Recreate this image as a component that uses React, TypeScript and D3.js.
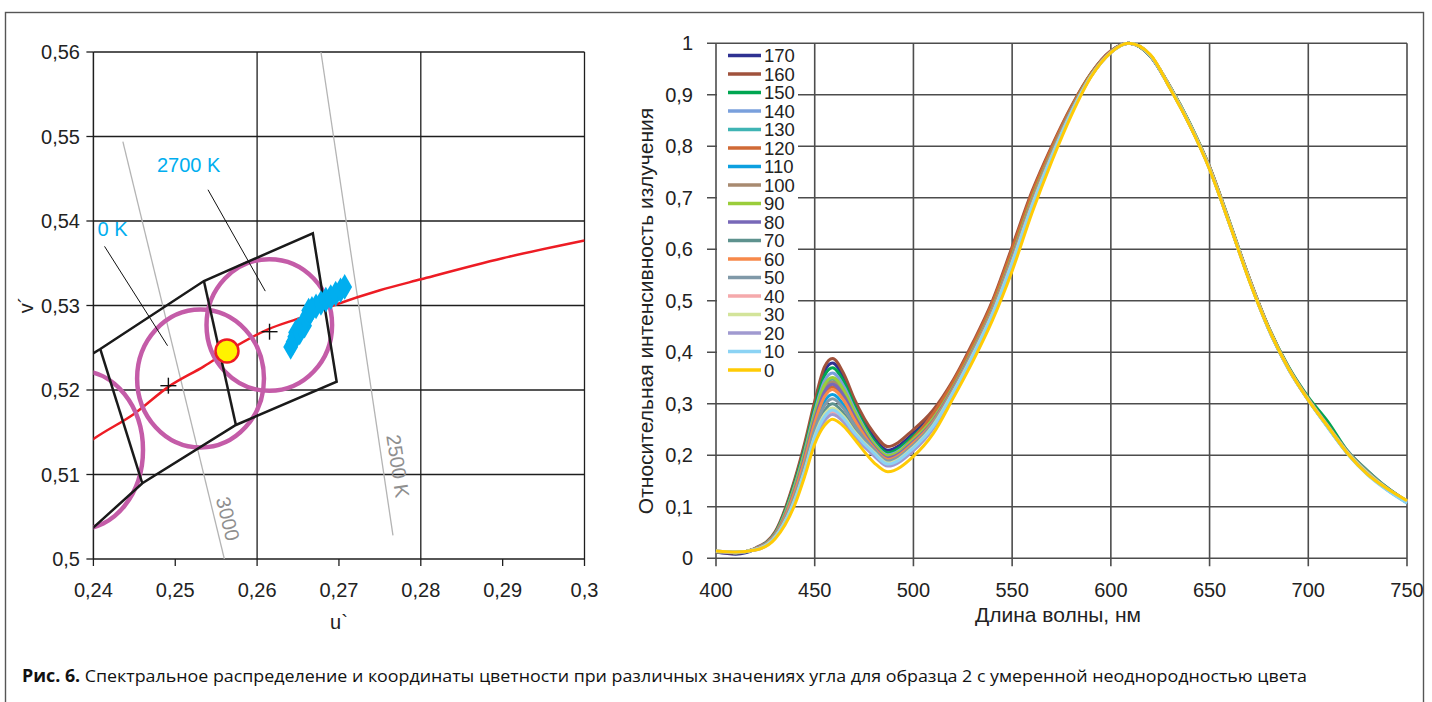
import React from "react"
import * as d3 from "d3"

// ---------- left chart: chromaticity diagram (u', v') ----------
const uTicks = [0.24, 0.25, 0.26, 0.27, 0.28, 0.29, 0.3]
const uTickLabels = ["0,24", "0,25", "0,26", "0,27", "0,28", "0,29", "0,3"]
const uGrid = [0.26, 0.28, 0.3]
const vTicks = [0.5, 0.51, 0.52, 0.53, 0.54, 0.55, 0.56]
const vTickLabels = ["0,5", "0,51", "0,52", "0,53", "0,54", "0,55", "0,56"]

// Planckian locus (red)
const locusU = [0.239, 0.24, 0.245, 0.2492, 0.2535, 0.2564, 0.2614, 0.2655, 0.2693, 0.275, 0.28, 0.29, 0.3]
const locusV = [0.5135, 0.5142, 0.5172, 0.5204, 0.5228, 0.5246, 0.5272, 0.5286, 0.53, 0.5318, 0.5331, 0.5356, 0.5377]

// isotherms (grey)
const isoLabels = ["3000", "2500 K"]
const isoU1 = [0.2436, 0.2678]
const isoV1 = [0.5494, 0.56]
const isoU2 = [0.256, 0.2766]
const isoV2 = [0.5, 0.5028]
const isoLabelU = [0.2556, 0.27635]
const isoLabelV = [0.50456, 0.51089]

// quadrangles (black)
const quadOutline: [number, number][] = [
	[0.2394, 0.524], [0.24084, 0.52485], [0.2535, 0.5329], [0.26681, 0.53855],
	[0.26972, 0.52098], [0.25741, 0.51586], [0.24598, 0.50896], [0.2394, 0.5032],
]
const quadDividers: [number, number][][] = [
	[[0.24084, 0.52485], [0.24598, 0.50896]],
	[[0.2535, 0.5329], [0.25741, 0.51586]],
]

// ellipses (magenta)
const ellipseU = [0.26149, 0.25309, 0.23836]
const ellipseV = [0.52769, 0.52136, 0.5129]
const ellipseRu = [0.00767, 0.00775, 0.0077]
const ellipseRv = [0.00779, 0.00817, 0.00935]

// centre crosses and the reference point
const crossU = [0.26152, 0.24916]
const crossV = [0.5269, 0.52051]
const refU = 0.25632
const refV = 0.52461

// measured colour points (cyan)
const measU = [0.2641, 0.2644, 0.2646, 0.2647, 0.265, 0.2652, 0.2654, 0.2657, 0.2658, 0.266, 0.2662, 0.2663, 0.2665, 0.2667, 0.2672, 0.2678, 0.2684, 0.269, 0.2696, 0.2702, 0.2707]
const measV = [0.5251, 0.5257, 0.5263, 0.5268, 0.5271, 0.5268, 0.5275, 0.5279, 0.5276, 0.5284, 0.5289, 0.5294, 0.5292, 0.5296, 0.5299, 0.5303, 0.5307, 0.531, 0.5314, 0.5318, 0.5322]

// annotations
const noteTexts = ["2700 K", "0 K"]
const noteU = [0.24777, 0.24051]
const noteV = [0.5458, 0.53822]
const leaderFrom: [number, number][] = [[0.254, 0.5437], [0.24136, 0.537]]
const leaderTo: [number, number][] = [[0.261, 0.5317], [0.24906, 0.52524]]

// ---------- right chart: spectra ----------
const wavelengths = [400, 410, 420, 430, 440, 445, 450, 455, 459, 465, 470, 480, 487, 500, 510, 520, 530, 540, 550, 560, 570, 580, 590, 600, 609, 620, 630, 640, 650, 660, 670, 680, 690, 700, 710, 720, 730, 740, 750]
const xTicksR = [400, 450, 500, 550, 600, 650, 700, 750]
const yTicksR = [0, 0.1, 0.2, 0.3, 0.4, 0.5, 0.6, 0.7, 0.8, 0.9, 1]
const yTickLabelsR = ["0", "0,1", "0,2", "0,3", "0,4", "0,5", "0,6", "0,7", "0,8", "0,9", "1"]

const s170 = [0.012, 0.008, 0.018, 0.050, 0.151, 0.220, 0.298, 0.363, 0.379, 0.348, 0.304, 0.235, 0.210, 0.243, 0.282, 0.340, 0.413, 0.495, 0.598, 0.706, 0.796, 0.875, 0.941, 0.985, 1.000, 0.976, 0.915, 0.842, 0.758, 0.652, 0.543, 0.446, 0.369, 0.309, 0.256, 0.205, 0.167, 0.135, 0.108]
const s160 = [0.012, 0.010, 0.020, 0.052, 0.155, 0.225, 0.305, 0.372, 0.388, 0.356, 0.310, 0.243, 0.217, 0.250, 0.288, 0.345, 0.418, 0.500, 0.605, 0.712, 0.800, 0.878, 0.942, 0.985, 1.000, 0.975, 0.915, 0.843, 0.760, 0.653, 0.545, 0.447, 0.370, 0.310, 0.256, 0.206, 0.168, 0.136, 0.110]
const s150 = [0.013, 0.011, 0.019, 0.049, 0.148, 0.215, 0.293, 0.355, 0.370, 0.341, 0.298, 0.229, 0.205, 0.238, 0.277, 0.337, 0.409, 0.491, 0.594, 0.702, 0.793, 0.874, 0.940, 0.984, 1.000, 0.975, 0.916, 0.845, 0.760, 0.655, 0.545, 0.448, 0.372, 0.313, 0.265, 0.208, 0.170, 0.137, 0.110]
const s140 = [0.013, 0.011, 0.019, 0.048, 0.143, 0.209, 0.285, 0.345, 0.360, 0.332, 0.291, 0.224, 0.201, 0.233, 0.273, 0.333, 0.406, 0.488, 0.590, 0.698, 0.790, 0.872, 0.939, 0.984, 1.000, 0.976, 0.914, 0.842, 0.757, 0.652, 0.542, 0.446, 0.369, 0.309, 0.256, 0.205, 0.166, 0.135, 0.110]
const s130 = [0.013, 0.011, 0.018, 0.047, 0.138, 0.203, 0.277, 0.333, 0.348, 0.322, 0.284, 0.220, 0.197, 0.229, 0.269, 0.331, 0.403, 0.484, 0.586, 0.695, 0.788, 0.871, 0.938, 0.983, 1.000, 0.976, 0.913, 0.841, 0.757, 0.651, 0.542, 0.445, 0.368, 0.308, 0.255, 0.204, 0.166, 0.134, 0.109]
const s120 = [0.013, 0.011, 0.018, 0.047, 0.132, 0.195, 0.266, 0.318, 0.333, 0.309, 0.273, 0.215, 0.193, 0.234, 0.281, 0.342, 0.414, 0.496, 0.600, 0.708, 0.797, 0.876, 0.941, 0.985, 1.000, 0.976, 0.915, 0.843, 0.759, 0.653, 0.544, 0.447, 0.370, 0.310, 0.257, 0.206, 0.167, 0.136, 0.111]
const s110 = [0.013, 0.011, 0.017, 0.045, 0.126, 0.187, 0.256, 0.305, 0.318, 0.296, 0.264, 0.212, 0.190, 0.221, 0.267, 0.329, 0.402, 0.483, 0.584, 0.693, 0.787, 0.870, 0.938, 0.983, 1.000, 0.977, 0.914, 0.842, 0.757, 0.651, 0.542, 0.445, 0.368, 0.308, 0.254, 0.203, 0.164, 0.133, 0.108]
const s100 = [0.013, 0.011, 0.018, 0.046, 0.136, 0.200, 0.274, 0.329, 0.343, 0.318, 0.280, 0.219, 0.196, 0.228, 0.268, 0.330, 0.403, 0.484, 0.585, 0.694, 0.787, 0.870, 0.938, 0.983, 1.000, 0.976, 0.914, 0.842, 0.758, 0.652, 0.543, 0.446, 0.369, 0.309, 0.257, 0.207, 0.169, 0.136, 0.110]
const s90 = [0.013, 0.011, 0.018, 0.047, 0.140, 0.205, 0.279, 0.337, 0.351, 0.325, 0.286, 0.222, 0.199, 0.231, 0.271, 0.332, 0.405, 0.486, 0.588, 0.697, 0.789, 0.871, 0.939, 0.983, 1.000, 0.976, 0.914, 0.842, 0.758, 0.652, 0.543, 0.446, 0.369, 0.309, 0.256, 0.205, 0.166, 0.135, 0.110]
const s80 = [0.013, 0.011, 0.018, 0.046, 0.134, 0.198, 0.270, 0.324, 0.338, 0.314, 0.277, 0.217, 0.195, 0.227, 0.267, 0.329, 0.402, 0.483, 0.584, 0.693, 0.787, 0.870, 0.938, 0.983, 1.000, 0.976, 0.913, 0.841, 0.757, 0.651, 0.542, 0.445, 0.368, 0.308, 0.255, 0.204, 0.165, 0.134, 0.109]
const s70 = [0.013, 0.011, 0.017, 0.043, 0.118, 0.176, 0.243, 0.287, 0.300, 0.280, 0.252, 0.209, 0.188, 0.219, 0.261, 0.324, 0.397, 0.478, 0.577, 0.687, 0.782, 0.867, 0.937, 0.983, 1.000, 0.976, 0.914, 0.842, 0.758, 0.652, 0.543, 0.447, 0.370, 0.310, 0.258, 0.208, 0.170, 0.137, 0.111]
const s60 = [0.013, 0.011, 0.018, 0.045, 0.130, 0.192, 0.263, 0.314, 0.328, 0.305, 0.270, 0.214, 0.192, 0.224, 0.265, 0.327, 0.400, 0.481, 0.581, 0.691, 0.785, 0.869, 0.938, 0.983, 1.000, 0.977, 0.915, 0.843, 0.759, 0.653, 0.544, 0.446, 0.369, 0.309, 0.256, 0.205, 0.166, 0.135, 0.110]
const s50 = [0.013, 0.011, 0.017, 0.044, 0.122, 0.182, 0.250, 0.297, 0.310, 0.289, 0.259, 0.211, 0.189, 0.220, 0.262, 0.325, 0.398, 0.478, 0.578, 0.688, 0.783, 0.868, 0.937, 0.983, 1.000, 0.976, 0.913, 0.841, 0.757, 0.651, 0.542, 0.445, 0.368, 0.308, 0.255, 0.204, 0.165, 0.134, 0.109]
const s40 = [0.014, 0.012, 0.017, 0.041, 0.111, 0.168, 0.232, 0.272, 0.284, 0.267, 0.241, 0.201, 0.181, 0.212, 0.254, 0.320, 0.392, 0.472, 0.571, 0.681, 0.778, 0.865, 0.936, 0.982, 1.000, 0.977, 0.913, 0.841, 0.756, 0.651, 0.542, 0.445, 0.368, 0.308, 0.255, 0.204, 0.165, 0.134, 0.110]
const s30 = [0.014, 0.012, 0.017, 0.042, 0.115, 0.172, 0.238, 0.280, 0.292, 0.274, 0.247, 0.206, 0.185, 0.216, 0.258, 0.322, 0.395, 0.475, 0.575, 0.685, 0.781, 0.866, 0.937, 0.982, 1.000, 0.977, 0.914, 0.842, 0.757, 0.651, 0.542, 0.445, 0.368, 0.308, 0.256, 0.205, 0.166, 0.135, 0.111]
const s20 = [0.014, 0.012, 0.016, 0.040, 0.109, 0.165, 0.229, 0.267, 0.279, 0.263, 0.238, 0.199, 0.179, 0.209, 0.252, 0.318, 0.390, 0.470, 0.568, 0.679, 0.777, 0.864, 0.936, 0.982, 1.000, 0.977, 0.913, 0.841, 0.756, 0.650, 0.541, 0.444, 0.367, 0.307, 0.254, 0.203, 0.164, 0.133, 0.109]
const s10 = [0.014, 0.012, 0.017, 0.041, 0.113, 0.170, 0.235, 0.275, 0.288, 0.270, 0.244, 0.204, 0.183, 0.214, 0.256, 0.321, 0.393, 0.474, 0.573, 0.683, 0.779, 0.866, 0.936, 0.982, 1.000, 0.977, 0.913, 0.841, 0.756, 0.650, 0.541, 0.444, 0.367, 0.307, 0.253, 0.202, 0.162, 0.132, 0.107]
const s0 = [0.014, 0.012, 0.016, 0.038, 0.105, 0.160, 0.222, 0.258, 0.270, 0.255, 0.232, 0.186, 0.168, 0.198, 0.242, 0.310, 0.382, 0.462, 0.558, 0.670, 0.770, 0.860, 0.935, 0.982, 1.000, 0.978, 0.912, 0.840, 0.755, 0.650, 0.540, 0.445, 0.368, 0.307, 0.255, 0.203, 0.163, 0.135, 0.112]

const angles = [170, 160, 150, 140, 130, 120, 110, 100, 90, 80, 70, 60, 50, 40, 30, 20, 10, 0]
const spectra = [s170, s160, s150, s140, s130, s120, s110, s100, s90, s80, s70, s60, s50, s40, s30, s20, s10, s0]
const angleColors = [
	"#2e3192", "#a0523c", "#00a651", "#7aa0dc", "#3fb4b4", "#d06a36",
	"#0ca0e0", "#a88a70", "#9acd3a", "#7868b8", "#5e928e", "#f7894a",
	"#8099a8", "#f5a9ab", "#d3e49a", "#a09ad0", "#8bd3f4", "#ffcb05",
]

const FONT = "'Liberation Sans', Arial, sans-serif"
const TICK_FONT = 20

const xL = d3.scaleLinear().domain([0.24, 0.3]).range([93.4, 584.5])
const yL = d3.scaleLinear().domain([0.5, 0.56]).range([559, 52])
const xR = d3.scaleLinear().domain([400, 750]).range([716, 1407])
const yR = d3.scaleLinear().domain([0, 1]).range([558.3, 43.3])

const LeftChart = () => {
	const locus = d3.line<number>()
		.x((d) => xL(d))
		.y((_, i) => yL(locusV[i]))
		.curve(d3.curveMonotoneX)(locusU)
	const poly = d3.line<[number, number]>().x((d) => xL(d[0])).y((d) => yL(d[1]))
	const diamond = d3.symbol(d3.symbolDiamond, 190)()
	return (
		<g fontFamily={FONT}>
			<defs>
				<clipPath id="uv-clip">
					<rect x={xL(0.24)} y={yL(0.56)} width={xL(0.3) - xL(0.24)} height={yL(0.5) - yL(0.56)} />
				</clipPath>
			</defs>
			{/* grid */}
			{vTicks.map((v) => (
				<line key={"h" + v} x1={xL(0.24)} x2={xL(0.3)} y1={yL(v)} y2={yL(v)} stroke="#1e1e1e" strokeWidth={1.3} />
			))}
			{uGrid.map((u) => (
				<line key={"g" + u} x1={xL(u)} x2={xL(u)} y1={yL(0.5)} y2={yL(0.56)} stroke="#1e1e1e" strokeWidth={1.3} />
			))}
			<line x1={xL(0.24)} x2={xL(0.24)} y1={yL(0.5)} y2={yL(0.56)} stroke="#1e1e1e" strokeWidth={1.5} />
			{/* ticks */}
			{uTicks.map((u, i) => (
				<g key={"xt" + u}>
					<line x1={xL(u)} x2={xL(u)} y1={yL(0.5)} y2={yL(0.5) + 7} stroke="#1e1e1e" strokeWidth={1.3} />
					<text x={xL(u)} y={597} textAnchor="middle" fontSize={TICK_FONT} fill="#222">{uTickLabels[i]}</text>
				</g>
			))}
			{vTicks.map((v, i) => (
				<g key={"yt" + v}>
					<line x1={xL(0.24) - 7} x2={xL(0.24)} y1={yL(v)} y2={yL(v)} stroke="#1e1e1e" strokeWidth={1.3} />
					<text x={80} y={yL(v) + 7} textAnchor="end" fontSize={TICK_FONT} fill="#222">{vTickLabels[i]}</text>
				</g>
			))}
			<text x={339} y={629} textAnchor="middle" fontSize={20} fill="#222">u`</text>
			<text transform="translate(33,305) rotate(-90)" textAnchor="middle" fontSize={20} fill="#222">v´</text>

			{/* isotherms */}
			{isoU1.map((u, i) => {
				const x1 = xL(u), y1 = yL(isoV1[i]), x2 = xL(isoU2[i]), y2 = yL(isoV2[i])
				const ang = (Math.atan2(y2 - y1, x2 - x1) * 180) / Math.PI
				return (
					<g key={"iso" + i}>
						<line x1={x1} y1={y1} x2={x2} y2={y2} stroke="#b4b4b4" strokeWidth={1.3} />
						<text
							transform={`translate(${xL(isoLabelU[i])},${yL(isoLabelV[i])}) rotate(${ang})`}
							textAnchor="middle" fontSize={20} fill="#8f8f8f"
						>{isoLabels[i]}</text>
					</g>
				)
			})}

			<g clipPath="url(#uv-clip)">
				<path d={locus ?? ""} fill="none" stroke="#ed1c24" strokeWidth={2.5} />
				{ellipseU.map((u, i) => (
					<ellipse key={"el" + i} cx={xL(u)} cy={yL(ellipseV[i])}
						rx={xL(u + ellipseRu[i]) - xL(u)} ry={yL(ellipseV[i] - ellipseRv[i]) - yL(ellipseV[i])}
						fill="none" stroke="#c45ca8" strokeWidth={4.5} />
				))}
				<path d={poly(quadOutline) ?? ""} fill="none" stroke="#1a1a1a" strokeWidth={2.5} strokeLinejoin="miter" />
				{quadDividers.map((seg, i) => (
					<path key={"qd" + i} d={poly(seg) ?? ""} fill="none" stroke="#1a1a1a" strokeWidth={2.5} />
				))}
			</g>

			{crossU.map((u, i) => (
				<g key={"cr" + i} stroke="#111" strokeWidth={1.4}>
					<line x1={xL(u) - 8} x2={xL(u) + 8} y1={yL(crossV[i])} y2={yL(crossV[i])} />
					<line x1={xL(u)} x2={xL(u)} y1={yL(crossV[i]) - 8} y2={yL(crossV[i]) + 8} />
				</g>
			))}
			{measU.map((u, i) => (
				<path key={"m" + i} d={diamond ?? ""} transform={`translate(${xL(u)},${yL(measV[i])})`} fill="#00aeef" />
			))}
			<circle cx={xL(refU)} cy={yL(refV)} r={11.5} fill="#fff200" stroke="#ed1c24" strokeWidth={2.5} />

			{leaderFrom.map((p, i) => (
				<line key={"ld" + i} x1={xL(p[0])} y1={yL(p[1])} x2={xL(leaderTo[i][0])} y2={yL(leaderTo[i][1])} stroke="#111" strokeWidth={1} />
			))}
			{noteTexts.map((t, i) => (
				<text key={"nt" + i} x={xL(noteU[i])} y={yL(noteV[i])} fontSize={20} fill="#00aeef">{t}</text>
			))}
		</g>
	)
}

const RightChart = () => {
	const line = d3.line<number>()
		.x((_, i) => xR(wavelengths[i]))
		.y((d) => yR(d))
		.curve(d3.curveMonotoneX)
	return (
		<g fontFamily={FONT}>
			{yTicksR.map((v, i) => (
				<g key={"ry" + v}>
					<line x1={xR(400) - 9} x2={xR(750)} y1={yR(v)} y2={yR(v)} stroke="#4d4d4d" strokeWidth={1.6} />
					<text x={693} y={yR(v) + 7} textAnchor="end" fontSize={TICK_FONT} fill="#222">{yTickLabelsR[i]}</text>
				</g>
			))}
			{xTicksR.map((w) => (
				<g key={"rx" + w}>
					<line x1={xR(w)} x2={xR(w)} y1={yR(0) + 8} y2={yR(1)} stroke="#4d4d4d" strokeWidth={1.6} />
					<text x={xR(w)} y={597} textAnchor="middle" fontSize={TICK_FONT} fill="#222">{w}</text>
				</g>
			))}
			<text x={1058} y={622} textAnchor="middle" fontSize={21} fill="#222">Длина волны, нм</text>
			<text transform="translate(653,311) rotate(-90)" textAnchor="middle" fontSize={21} fill="#222">
				Относительная интенсивность излучения
			</text>

			{/* legend */}
			<rect x={xR(400) + 1} y={yR(1) + 1} width={81} height={337} fill="#fff" />
			{angles.map((a, i) => (
				<g key={"lg" + a}>
					<line x1={728} x2={761} y1={55.5 + i * 18.5} y2={55.5 + i * 18.5} stroke={angleColors[i]} strokeWidth={3.5} />
					<text x={764} y={55.5 + i * 18.5 + 6.5} fontSize={18.5} fill="#222">{a}</text>
				</g>
			))}

			{spectra.map((s, i) => (
				<path key={"sp" + angles[i]} d={line(s) ?? ""} fill="none" stroke={angleColors[i]} strokeWidth={3} strokeLinejoin="round" />
			))}
		</g>
	)
}

const App = () => {
	return (
		<svg width={1432} height={702} style={{ position: "absolute", left: 0, top: 0, background: "#fff" }}>
			<rect x={0} y={0} width={1432} height={702} fill="#fff" />
			<rect x={5.5} y={12.5} width={1418} height={700} fill="none" stroke="#555" strokeWidth={1.4} />
			<LeftChart />
			<RightChart />
			<text x={22} y={682} fontSize={17} fill="#111" fontFamily="'Open Sans', 'Noto Sans', sans-serif"
				textLength={1285} lengthAdjust="spacingAndGlyphs">
				<tspan fontWeight="bold">Рис. 6.</tspan>
				<tspan> Спектральное распределение и координаты цветности при различных значениях угла для образца 2 с умеренной неоднородностью цвета</tspan>
			</text>
		</svg>
	)
}

export default App
